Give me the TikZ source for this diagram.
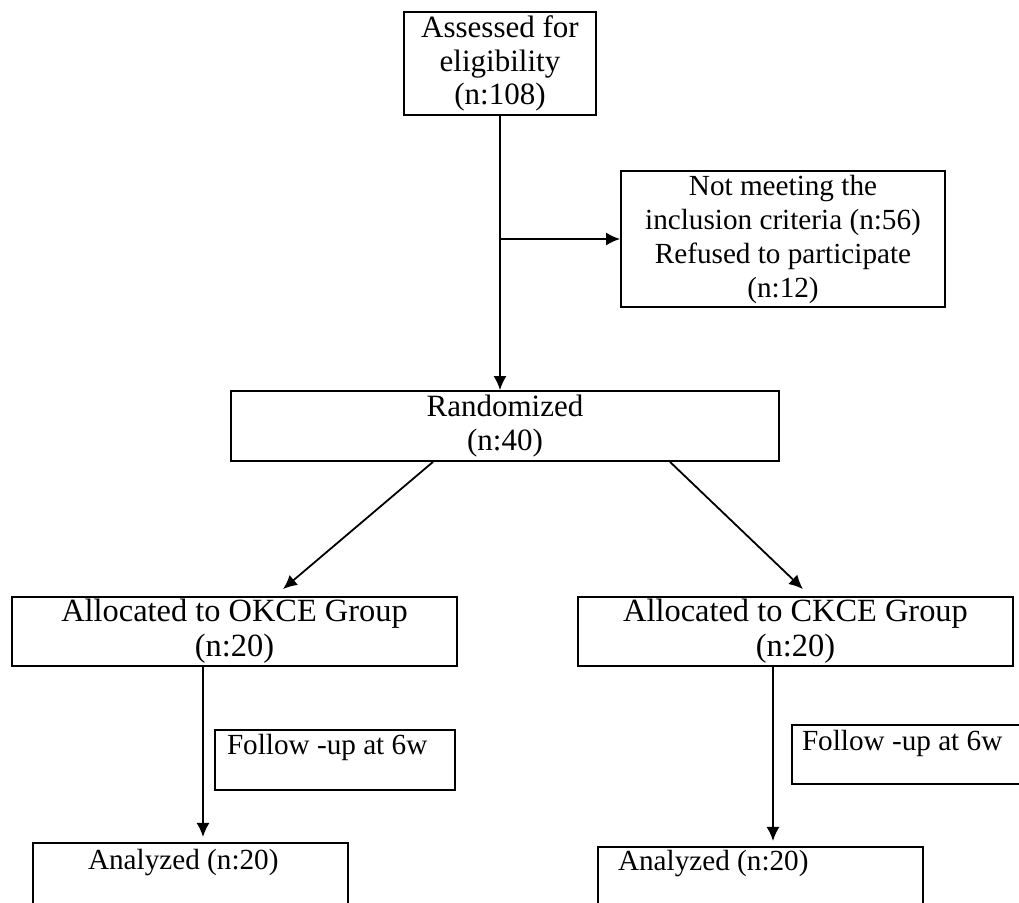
\documentclass[tikz,border=0pt]{standalone}
\usepackage{fontspec}
\setmainfont{Liberation Serif}
\usetikzlibrary{arrows.meta}
\begin{document}
\begin{tikzpicture}[x=0.5pt,y=-0.5pt,
    font=\fontsize{15.5}{16.8}\selectfont,
    box/.style={draw,line width=0.9pt,align=center,inner sep=1pt},
    grouptext/.style={font=\fontsize{16.2}{17.5}\selectfont},
    smalltext/.style={font=\fontsize{14.6}{17}\selectfont},
    arr/.style={line width=0.9pt,-{Latex[length=7pt,width=6.5pt]}}]
\useasboundingbox (0,0) rectangle (1019,903);
  % top part
  \node[box,minimum width=96pt,minimum height=51.5pt] (assess) at (500,63.5) {Assessed for\\eligibility\\(n:108)};
  \node[box,smalltext,minimum width=162pt,minimum height=68pt] (exclude) at (783,239) {Not meeting the\\inclusion criteria (n:56)\\Refused to participate\\(n:12)};
  \node[box,minimum width=274pt,minimum height=35pt] (random) at (505,426) {Randomized\\(n:40)};
  % the two groups
  \node[box,grouptext,minimum width=222.5pt,minimum height=34.5pt] (okce) at (234.5,631.5) {Allocated to OKCE Group\\(n:20)};
  \node[box,grouptext,minimum width=217.5pt,minimum height=34.5pt] (ckce) at (795.5,631.5) {Allocated to CKCE Group\\(n:20)};
  \node[box,smalltext,anchor=north,inner xsep=6pt,inner ysep=0pt,text height=12.5pt,text depth=17.5pt] (follow1) at (335,729) {\makebox[108pt][l]{Follow -up at 6w}};
  \node[box,smalltext,anchor=north,inner xsep=5pt,inner ysep=0pt,text height=13pt,text depth=16.5pt] (follow2) at (922,724) {\makebox[120pt][l]{Follow -up at 6w}};
  \node[box,smalltext,anchor=north,inner xsep=27.5pt,inner ysep=0pt,text height=13.5pt,text depth=32pt] (ana1) at (190.5,842) {\makebox[102.5pt][l]{Analyzed (n:20)}};
  \node[box,smalltext,anchor=north,inner xsep=10pt,inner ysep=0pt,text height=12pt,text depth=30pt] (ana2) at (760.5,846) {\makebox[142.5pt][l]{Analyzed (n:20)}};
  % arrows
  \draw[arr] (assess.south) -- (assess.south |- random.north);
  \draw[arr] (assess.south |- exclude.west) -- (exclude.west);
  \draw[arr] ([xshift=-36pt]random.south) -- ([xshift=24.25pt,yshift=3.5pt]okce.north);
  \draw[arr] ([xshift=82.5pt]random.south) -- ([xshift=3.75pt,yshift=3.5pt]ckce.north);
  \draw[arr,shorten >=2.5pt] ([xshift=-15.75pt]okce.south) -- ([xshift=-15.75pt]okce.south |- ana1.north);
  \draw[arr,shorten >=2.5pt] ([xshift=-11.25pt]ckce.south) -- ([xshift=-11.25pt]ckce.south |- ana2.north);
\end{tikzpicture}
\end{document}
